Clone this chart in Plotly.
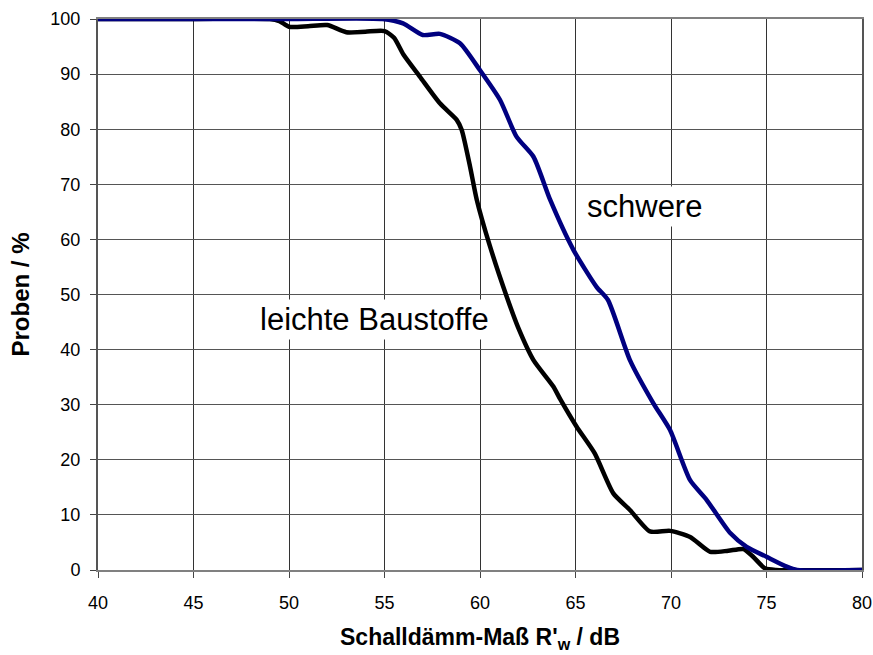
import plotly.graph_objects as go

# leichte Baustoffe (black)
light_x = [40, 45, 49, 49.5, 50, 51, 52, 53, 54, 55, 55.5, 56, 56.86, 57.9, 58.78, 59.04, 59.48, 59.83,
           60.5, 61.4, 62.0, 62.8, 63.84, 64.2, 65.06, 66.0, 66.98, 67.85, 68.9, 69.95, 71.0, 72.05,
           73.0, 73.8, 74.3, 74.92, 75.5, 80]
light_y = [100, 100, 100, 99.6, 98.6, 98.7, 98.9, 97.6, 97.7, 97.8, 96.6, 93.5, 89.5, 84.7, 81.7, 79.9, 73.2, 67.2,
           59.0, 49.6, 44.0, 38.1, 33.3, 31.0, 26.0, 21.2, 13.9, 10.9, 7.0, 7.1, 6.0, 3.3,
           3.5, 3.8, 2.4, 0.3, 0, 0]

# schwere Baustoffe (navy)
heavy_x = [40, 45, 50, 54.9, 55.97, 57.0, 57.9, 58.95, 60.0, 61.05, 61.92, 62.8, 63.67, 64.89, 66.1, 66.7,
           67.85, 69.07, 69.95, 71.0, 71.87, 73.1, 73.96, 75.0, 76.06, 76.6, 80]
heavy_y = [100, 100, 100, 100, 99.2, 97.1, 97.3, 95.6, 90.7, 85.3, 78.6, 75.0, 67.2, 58.1, 51.4, 49.0,
           38.1, 30.3, 25.4, 16.3, 12.7, 6.7, 4.2, 2.4, 0.6, 0, 0]

x_ticks = [40, 45, 50, 55, 60, 65, 70, 75, 80]
y_ticks = [0, 10, 20, 30, 40, 50, 60, 70, 80, 90, 100]

FONT = "Arial, Liberation Sans, sans-serif"

fig = go.Figure()
fig.add_trace(go.Scatter(x=light_x, y=light_y, mode="lines",
                         line=dict(color="black", width=4.5, shape="spline", smoothing=0.6),
                         showlegend=False))
fig.add_trace(go.Scatter(x=heavy_x, y=heavy_y, mode="lines",
                         line=dict(color="#000080", width=4.5, shape="spline", smoothing=0.6),
                         showlegend=False))

fig.add_annotation(x=68.6, y=65.9, text="schwere", showarrow=False,
                   font=dict(family=FONT, size=31, color="black"),
                   bgcolor="white", borderpad=2, xanchor="center", yanchor="middle")
fig.add_annotation(x=54.5, y=45.4, text="leichte Baustoffe", showarrow=False,
                   font=dict(family=FONT, size=31, color="black"),
                   bgcolor="white", borderpad=2, xanchor="center", yanchor="middle")

fig.update_layout(
    width=873, height=655,
    margin=dict(l=98, r=11, t=19, b=85, autoexpand=False),
    paper_bgcolor="white", plot_bgcolor="white",
    font=dict(family=FONT, size=16, color="black"),
    xaxis=dict(range=[40, 80], tickvals=x_ticks, ticks="outside", ticklen=6, tickcolor="#444",
               tickfont=dict(size=18), ticklabelstandoff=9,
               showgrid=True, gridcolor="#333", gridwidth=1,
               showline=True, linecolor="#808080", linewidth=2, mirror=True, zeroline=False,
               title=dict(text="<b>Schalldämm-Maß R'<sub>w</sub> / dB</b>", font=dict(size=23), standoff=17)),
    yaxis=dict(range=[0, 100], tickvals=y_ticks, ticks="outside", ticklen=6, tickcolor="#444",
               tickfont=dict(size=18), ticklabelstandoff=6,
               showgrid=True, gridcolor="#555", gridwidth=1,
               showline=True, linecolor="#555", linewidth=2, mirror=True, zeroline=False,
               title=dict(text="<b>Proben / %</b>", font=dict(size=24), standoff=14)),
)

fig.write_html("out.html", config={"displayModeBar": False},
               post_script="document.body.style.margin='0';document.body.style.padding='0';")
